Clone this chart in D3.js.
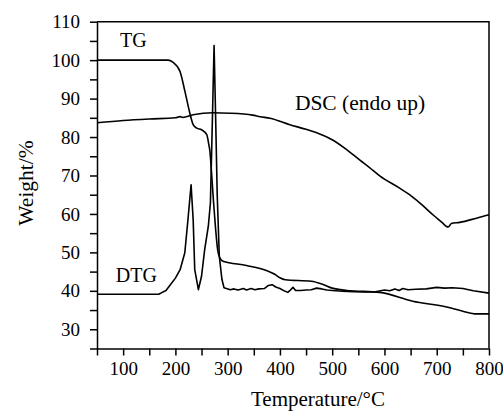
<!DOCTYPE html>
<html>
<head>
<meta charset="utf-8">
<script src="https://cdn.jsdelivr.net/npm/d3@7"></script>
<style>
  body { margin: 0; background: #fff; }
  svg { display: block; }
  text { font-family: "Liberation Serif", "DejaVu Serif", "Times New Roman", Times, serif; fill: #000; }
</style>
</head>
<body>
<svg width="503" height="413"></svg>
<script>
// temperature (C) / value pairs
var tgTemp = [50, 186, 195, 209, 218, 228, 234, 241, 250, 260, 264, 266, 269, 273, 277, 281, 285, 291, 336, 374, 390, 400, 410, 460, 480, 500, 528, 591, 654, 719, 750, 776, 800];
var tgVal  = [100, 100, 99.5, 97, 92, 86, 83.2, 82.3, 81.9, 80.6, 78, 76.3, 71, 63, 56, 50.5, 48.6, 47.7, 46.6, 45.3, 44.3, 43.4, 42.9, 42.5, 41.8, 40.7, 40.1, 39.6, 37.3, 35.8, 34.7, 34.0, 34.0];

var dtgTemp = [50, 168, 175, 182, 190, 200, 209, 218, 224, 230, 234, 237, 244, 250, 256, 263, 267, 270, 274, 277, 280, 284, 289, 293,
  305, 312, 320, 330, 336, 345, 352, 360, 370, 378, 385, 392, 400, 408, 415, 420, 425, 430, 440, 450, 460, 470, 480, 490, 500,
  520, 540, 560, 580, 600, 610, 620, 628, 635, 645, 660, 680, 700, 715, 730, 750, 770, 800];
var dtgVal  = [39.1, 39.1, 39.6, 40.1, 41.5, 43.3, 45.5, 49.9, 58.5, 67.6, 58.5, 45.5, 40.3, 43.8, 50.7, 56.8, 62.9, 80, 103.8, 85, 65, 49, 43, 40.8,
  40.3, 40.5, 40.2, 40.6, 40.2, 40.6, 40.3, 40.5, 40.6, 41.4, 41.6, 41.0, 40.6, 40.0, 39.6, 40.2, 40.9, 40.1, 40.1, 40.2, 40.3, 40.7, 40.5, 40.2, 40.1,
  39.9, 39.8, 39.7, 39.7, 40.2, 40.0, 40.5, 40.1, 40.6, 40.3, 40.4, 40.5, 40.9, 40.7, 40.8, 40.6, 40.0, 39.4];

var dscTemp = [50, 100, 150, 200, 209, 214, 234, 272, 304, 348, 362, 381, 419, 450, 476, 500, 527, 553, 572, 591, 629, 648, 668, 696, 710, 718, 722, 728, 744, 776, 800];
var dscVal  = [83.7, 84.3, 84.7, 85.0, 85.3, 85.1, 85.8, 86.3, 86.2, 85.7, 85.3, 84.9, 83.2, 82.0, 80.8, 79.3, 76.8, 74.0, 72.0, 69.9, 66.7, 65.0, 62.8, 59.4, 57.8, 56.8, 56.6, 57.5, 57.8, 58.9, 59.8];

var xTicks = d3.range(50, 801, 50);
var yTicks = d3.range(25, 111, 5);

var serif = "'Liberation Serif', 'DejaVu Serif', 'Times New Roman', Times, serif";

var svg = d3.select("svg");

var xScale = d3.scaleLinear()
    .domain([50, 800])
    .range([97, 489]);

var yScale = d3.scaleLinear()
    .domain([25, 110])
    .range([348.5, 21.7]);

function zip(t, v) {
    return t.map(function(d, i) { return [d, v[i]]; });
}

var smooth = d3.line()
    .curve(d3.curveMonotoneX)
    .x(function(d) { return xScale(d[0]); })
    .y(function(d) { return yScale(d[1]); });

var sharp = d3.line()
    .x(function(d) { return xScale(d[0]); })
    .y(function(d) { return yScale(d[1]); });

// frame (top and right)
svg.append("path")
    .attr("d", "M" + xScale(50) + "," + yScale(110) + "H" + xScale(800) + "V" + yScale(25))
    .attr("fill", "none")
    .attr("stroke", "#000")
    .attr("stroke-width", 1.5);

var xAxis = d3.axisBottom(xScale)
    .tickValues(xTicks)
    .tickSize(7)
    .tickSizeOuter(0)
    .tickPadding(6)
    .tickFormat(function(d) { return d % 100 === 0 ? d : ""; });

var yAxis = d3.axisLeft(yScale)
    .tickValues(yTicks)
    .tickSize(7)
    .tickSizeOuter(0)
    .tickPadding(10)
    .tickFormat(function(d) { return d % 10 === 0 ? d : ""; });

var gx = svg.append("g")
    .attr("transform", "translate(0," + yScale(25) + ")")
    .call(xAxis);

var gy = svg.append("g")
    .attr("transform", "translate(" + xScale(50) + ",0)")
    .call(yAxis);

[gx, gy].forEach(function(g) {
    g.attr("font-family", null).attr("font-size", null);
    g.selectAll("path, line").attr("stroke", "#000").attr("stroke-width", 1.5);
    g.selectAll("text")
        .attr("fill", "#000")
        .style("font-family", serif)
        .style("font-size", "19px");
});

svg.append("path")
    .attr("d", smooth(zip(tgTemp, tgVal)))
    .attr("fill", "none")
    .attr("stroke", "#000")
    .attr("stroke-width", 1.6);

svg.append("path")
    .attr("d", sharp(zip(dtgTemp, dtgVal)))
    .attr("fill", "none")
    .attr("stroke", "#000")
    .attr("stroke-width", 1.6)
    .attr("stroke-linejoin", "round");

svg.append("path")
    .attr("d", smooth(zip(dscTemp, dscVal)))
    .attr("fill", "none")
    .attr("stroke", "#000")
    .attr("stroke-width", 1.6);

// curve labels
var labels = [
    { text: "TG", t: 94, v: 103.4, size: 20 },
    { text: "DTG", t: 86, v: 42.4, size: 20 },
    { text: "DSC (endo up)", t: 428.6, v: 87.1, size: 21.5 }
];

svg.selectAll(".lbl")
    .data(labels)
    .enter().append("text")
    .attr("class", "lbl")
    .attr("x", function(d) { return xScale(d.t); })
    .attr("y", function(d) { return yScale(d.v); })
    .style("font-family", serif)
    .style("font-size", function(d) { return d.size + "px"; })
    .text(function(d) { return d.text; });

// axis titles
svg.append("text")
    .attr("x", 318)
    .attr("y", 406)
    .attr("text-anchor", "middle")
    .style("font-family", serif)
    .style("font-size", "21px")
    .text("Temperature/°C");

svg.append("text")
    .attr("transform", "translate(33,183) rotate(-90)")
    .attr("text-anchor", "middle")
    .style("font-family", serif)
    .style("font-size", "21.5px")
    .text("Weight/%");
</script>
</body>
</html>
